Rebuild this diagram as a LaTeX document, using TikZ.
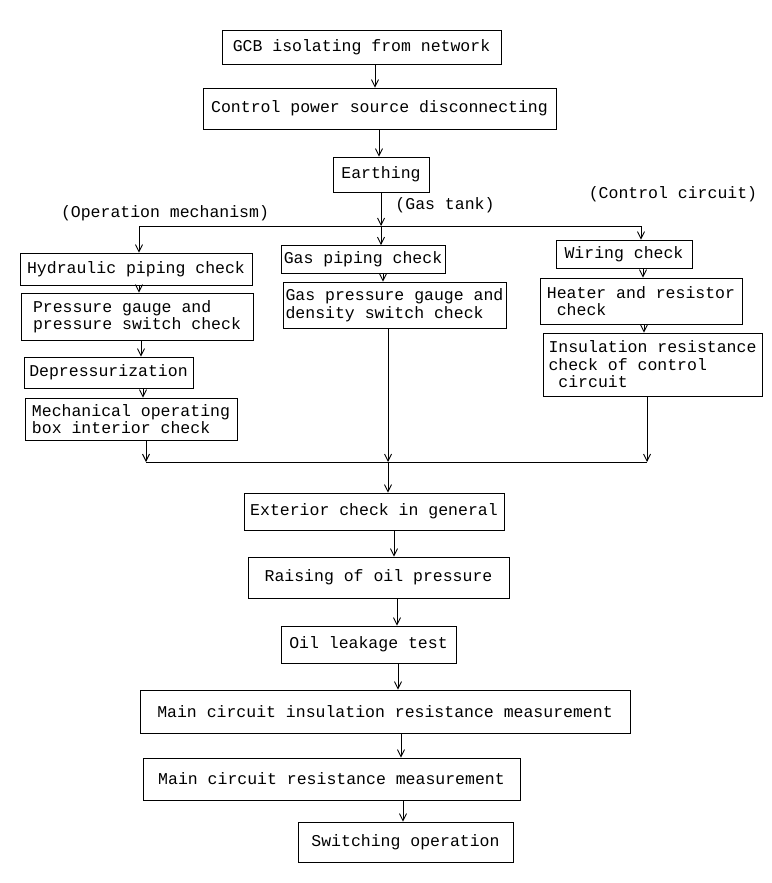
\documentclass[tikz,border=0pt]{standalone}
\usepackage{fontspec}
\setmainfont{Liberation Mono}[WordSpace={1,0,0}]
\usetikzlibrary{arrows.meta}
\begin{document}
\begin{tikzpicture}[x=1pt,y=-1pt,
  every node/.style={font=\fontsize{16.5}{17.5}\selectfont},
  box/.style 2 args={draw, line width=0.9pt, minimum width=#1, minimum height=#2, inner sep=0pt},
  mbox/.style 2 args={box={#1}{#2}, align=left},
  lbl/.style={inner sep=0pt},
  link/.style={line width=0.9pt},
  arr/.style={link, -{Straight Barb[length=7pt,width=7pt]}}]
\useasboundingbox (0,0) rectangle (771,883);

% main sequence, top part
\node[box={279pt}{34pt}] (gcb) at (361.5,47) {GCB isolating from network};
\node[box={353pt}{41pt}] (ctrl) at (379.5,108.5) {Control power source disconnecting};
\node[box={96pt}{35pt}] (earth) at (381,174.5) {Earthing};

% branch labels
\node[lbl] (lop) at (165,213) {(Operation mechanism)};
\node[lbl] (lgas) at (445,205) {(Gas tank)};
\node[lbl] (lctl) at (673,194) {(Control circuit)};

% operation mechanism column
\node[box={232pt}{32pt}] (hyd) at (136,269) {Hydraulic piping check};
\node[mbox={232pt}{47pt}] (pg) at (137,316.5) {Pressure gauge and\\pressure switch check};
\node[box={169pt}{31pt}] (dep) at (108.5,372.5) {Depressurization};
\node[mbox={212pt}{42pt}] (mech) at (131,419) {Mechanical operating\\box interior check};

% gas tank column
\node[box={164pt}{28pt}] (gp) at (363,259.5) {Gas piping check};
\node[mbox={223pt}{46pt}] (gpg) at (394.5,305) {Gas pressure gauge and\\density switch check};

% control circuit column
\node[box={136pt}{28pt}] (wir) at (624,254) {Wiring check};
\node[mbox={202pt}{46pt}] (heat) at (641,301) {Heater and resistor\\\ check};
\node[mbox={219pt}{63pt}] (ins) at (652.5,364.5) {Insulation resistance\\check of control\\\ circuit};

% main sequence, bottom part
\node[box={260pt}{37pt}] (ext) at (374,511.5) {Exterior check in general};
\node[box={261pt}{41pt}] (rais) at (378.5,577.5) {Raising of oil pressure};
\node[box={175pt}{37pt}] (oil) at (368.5,644.5) {Oil leakage test};
\node[box={490pt}{43pt}] (mcir) at (385,711.5) {Main circuit insulation resistance measurement};
\node[box={377pt}{42pt}] (mcr) at (331.5,779) {Main circuit resistance measurement};
\node[box={215pt}{40pt}] (sw) at (405.5,842) {Switching operation};

% column positions of the vertical connectors
\coordinate (xa) at (375,0);
\coordinate (xb) at (379,0);
\coordinate (xc) at (383,0);
\coordinate (xl1) at (139,0);
\coordinate (xl2) at (141,0);
\coordinate (xl3) at (143,0);
\coordinate (xr1) at (643,0);
\coordinate (xr2) at (644,0);
\coordinate (xd) at (394,0);
\coordinate (xe) at (397,0);
\coordinate (xf) at (398,0);
\coordinate (xg) at (401,0);
\coordinate (xh) at (403,0);

% branching bar
\coordinate (bl) at (139,226);
\coordinate (bm) at (381,226);
\coordinate (br) at (641,226);

% merging bar
\coordinate (ml) at (146,462);
\coordinate (mm) at (388,462);
\coordinate (mr) at (647,462);

\draw[arr] (gcb.south -| xa) -- (ctrl.north -| xa);
\draw[arr] (ctrl.south -| xb) -- (earth.north -| xb);
\draw[arr] (earth.south -| bm) -- (bm);
\draw[link] (bl) -- (br);
\draw[arr] (bl) -- (hyd.north -| bl);
\draw[arr] (bm) -- (gp.north -| bm);
\draw[arr] (br) -- (wir.north -| br);

\draw[arr] (hyd.south -| xl1) -- (pg.north -| xl1);
\draw[arr] (pg.south -| xl2) -- (dep.north -| xl2);
\draw[arr] (dep.south -| xl3) -- (mech.north -| xl3);

\draw[arr] (gp.south -| xc) -- (gpg.north -| xc);

\draw[arr] (wir.south -| xr1) -- (heat.north -| xr1);
\draw[arr] (heat.south -| xr2) -- (ins.north -| xr2);

\draw[arr] (mech.south -| ml) -- (ml);
\draw[arr] (gpg.south -| mm) -- (mm);
\draw[arr] (ins.south -| mr) -- (mr);
\draw[link] (ml) -- (mr);
\draw[arr] (mm) -- (ext.north -| mm);

\draw[arr] (ext.south -| xd) -- (rais.north -| xd);
\draw[arr] (rais.south -| xe) -- (oil.north -| xe);
\draw[arr] (oil.south -| xf) -- (mcir.north -| xf);
\draw[arr] (mcir.south -| xg) -- (mcr.north -| xg);
\draw[arr] (mcr.south -| xh) -- (sw.north -| xh);
\end{tikzpicture}
\end{document}
